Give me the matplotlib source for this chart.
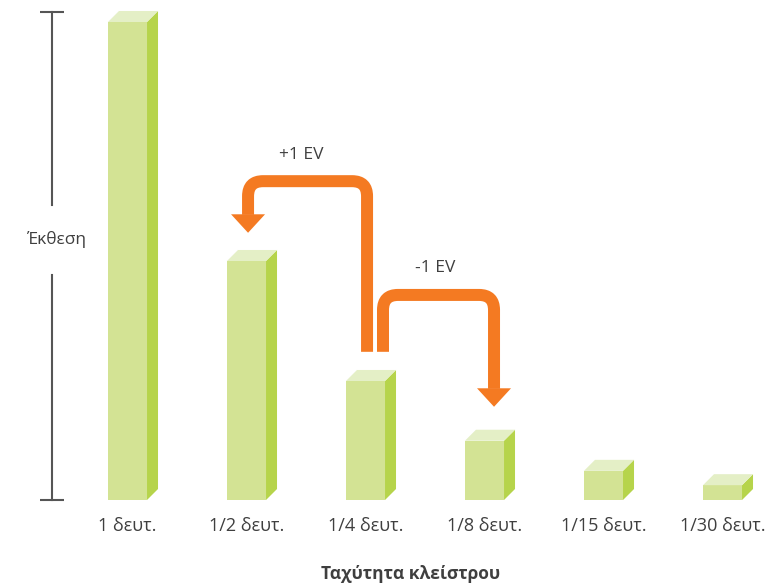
import matplotlib
matplotlib.use("Agg")
import matplotlib.pyplot as plt
from matplotlib.path import Path
from matplotlib.patches import PathPatch, Polygon
from matplotlib.transforms import IdentityTransform

plt.rcParams['font.family'] = ['Open Sans', 'DejaVu Sans']

# data
speeds = ["1 δευτ.", "1/2 δευτ.", "1/4 δευτ.", "1/8 δευτ.", "1/15 δευτ.", "1/30 δευτ."]
exposure = [100, 50, 24.9, 12.4, 6.1, 3.1]

# arrows: label, start x, end x, start y, top y, tip y, label x, label y
ev_labels = ["+1 EV", "-1 EV"]
ev_start_x = [2.013, 2.147]
ev_end_x = [1.013, 3.08]
ev_start_y = [31.0, 31.0]
ev_top_y = [66.7, 42.9]
ev_tip_y = [55.9, 19.5]
ev_text_x = [1.458, 2.584]
ev_text_y = [72.2, 48.5]

FRONT = '#d3e394'
SIDE = '#b6d44b'
TOP = '#e4efc6'
ORANGE = '#f47a22'
TXT = '#3f3f3f'

W, H = 781, 588
fig = plt.figure(figsize=(W / 100, H / 100), dpi=100)
ax = fig.add_axes([52 / W, 88 / H, 729 / W, 500 / H])
ax.set_xlim(-0.6345, 5.4916)
ax.set_ylim(0, 104.6)
for s in ax.spines.values():
    s.set_visible(False)
ax.set_yticks([])

# depth of the 3d faces, 11 px each way
p0 = ax.transData.inverted().transform((0, 0))
p1 = ax.transData.inverted().transform((11, 11))
dx, dy = p1[0] - p0[0], p1[1] - p0[1]

bw = 0.328
xs = list(range(len(speeds)))
ax.bar(xs, exposure, width=bw, color=FRONT, zorder=2)
for x, h in zip(xs, exposure):
    r = x + bw / 2
    l = x - bw / 2
    ax.add_patch(Polygon([(r, 0), (r + dx, dy), (r + dx, h + dy), (r, h)],
                         closed=True, facecolor=SIDE, edgecolor='none', zorder=2))
    ax.add_patch(Polygon([(l, h), (l + dx, h + dy), (r + dx, h + dy), (r, h)],
                         closed=True, facecolor=TOP, edgecolor='none', zorder=2))

ax.set_xticks(xs)
ax.set_xticklabels(speeds, fontsize=13, color=TXT)
ax.tick_params(axis='x', length=0, pad=12.5)

fig.text(411 / W, 1 - 574 / H, "Ταχύτητα κλείστρου", ha='center', va='center',
         fontsize=12.5, fontweight='bold', color=TXT)

# exposure axis with a gap for its label
axis_x = -0.6345
cap = 12.5 / 119
ax.plot([axis_x, axis_x], [102.1, 61.7], color='#555555', lw=1.5, clip_on=False)
ax.plot([axis_x, axis_x], [47.1, 0], color='#555555', lw=1.5, clip_on=False)
for yy in (102.1, 0):
    ax.plot([axis_x - cap, axis_x + cap], [yy, yy], color='#555555', lw=1.5,
            clip_on=False, solid_capstyle='butt')
ax.text(-0.592, 54.4, "Έκθεση", ha='center', va='center', fontsize=12.5, color=TXT)


def rounded_path(pts, rad):
    verts = [pts[0]]
    codes = [Path.MOVETO]
    for i in range(1, len(pts) - 1):
        px, py = pts[i - 1]
        cx, cy = pts[i]
        nx, ny = pts[i + 1]
        d1 = ((cx - px) ** 2 + (cy - py) ** 2) ** 0.5
        d2 = ((nx - cx) ** 2 + (ny - cy) ** 2) ** 0.5
        a = (cx - (cx - px) / d1 * rad, cy - (cy - py) / d1 * rad)
        b = (cx + (nx - cx) / d2 * rad, cy + (ny - cy) / d2 * rad)
        verts += [a, (cx, cy), b]
        codes += [Path.LINETO, Path.CURVE3, Path.CURVE3]
    verts.append(pts[-1])
    codes.append(Path.LINETO)
    return Path(verts, codes)


for i in range(len(ev_labels)):
    tip = ax.transData.transform((ev_end_x[i], ev_tip_y[i]))
    base = (tip[0], tip[1] + 18)
    pts = [ax.transData.transform((ev_start_x[i], ev_start_y[i])),
           ax.transData.transform((ev_start_x[i], ev_top_y[i])),
           ax.transData.transform((ev_end_x[i], ev_top_y[i])),
           base]
    ax.add_patch(PathPatch(rounded_path(pts, 15), transform=IdentityTransform(),
                           facecolor='none', edgecolor=ORANGE, lw=12 * 0.72,
                           capstyle='butt', joinstyle='round', zorder=3))
    ax.add_patch(Polygon([(tip[0] - 17, base[1] + 0.5), (tip[0] + 17, base[1] + 0.5), tuple(tip)],
                         closed=True, transform=IdentityTransform(),
                         facecolor=ORANGE, edgecolor='none', zorder=3))
    ax.text(ev_text_x[i], ev_text_y[i], ev_labels[i], ha='center', va='center',
            fontsize=12.5, color=TXT)

fig.savefig("out.png", dpi=100)
